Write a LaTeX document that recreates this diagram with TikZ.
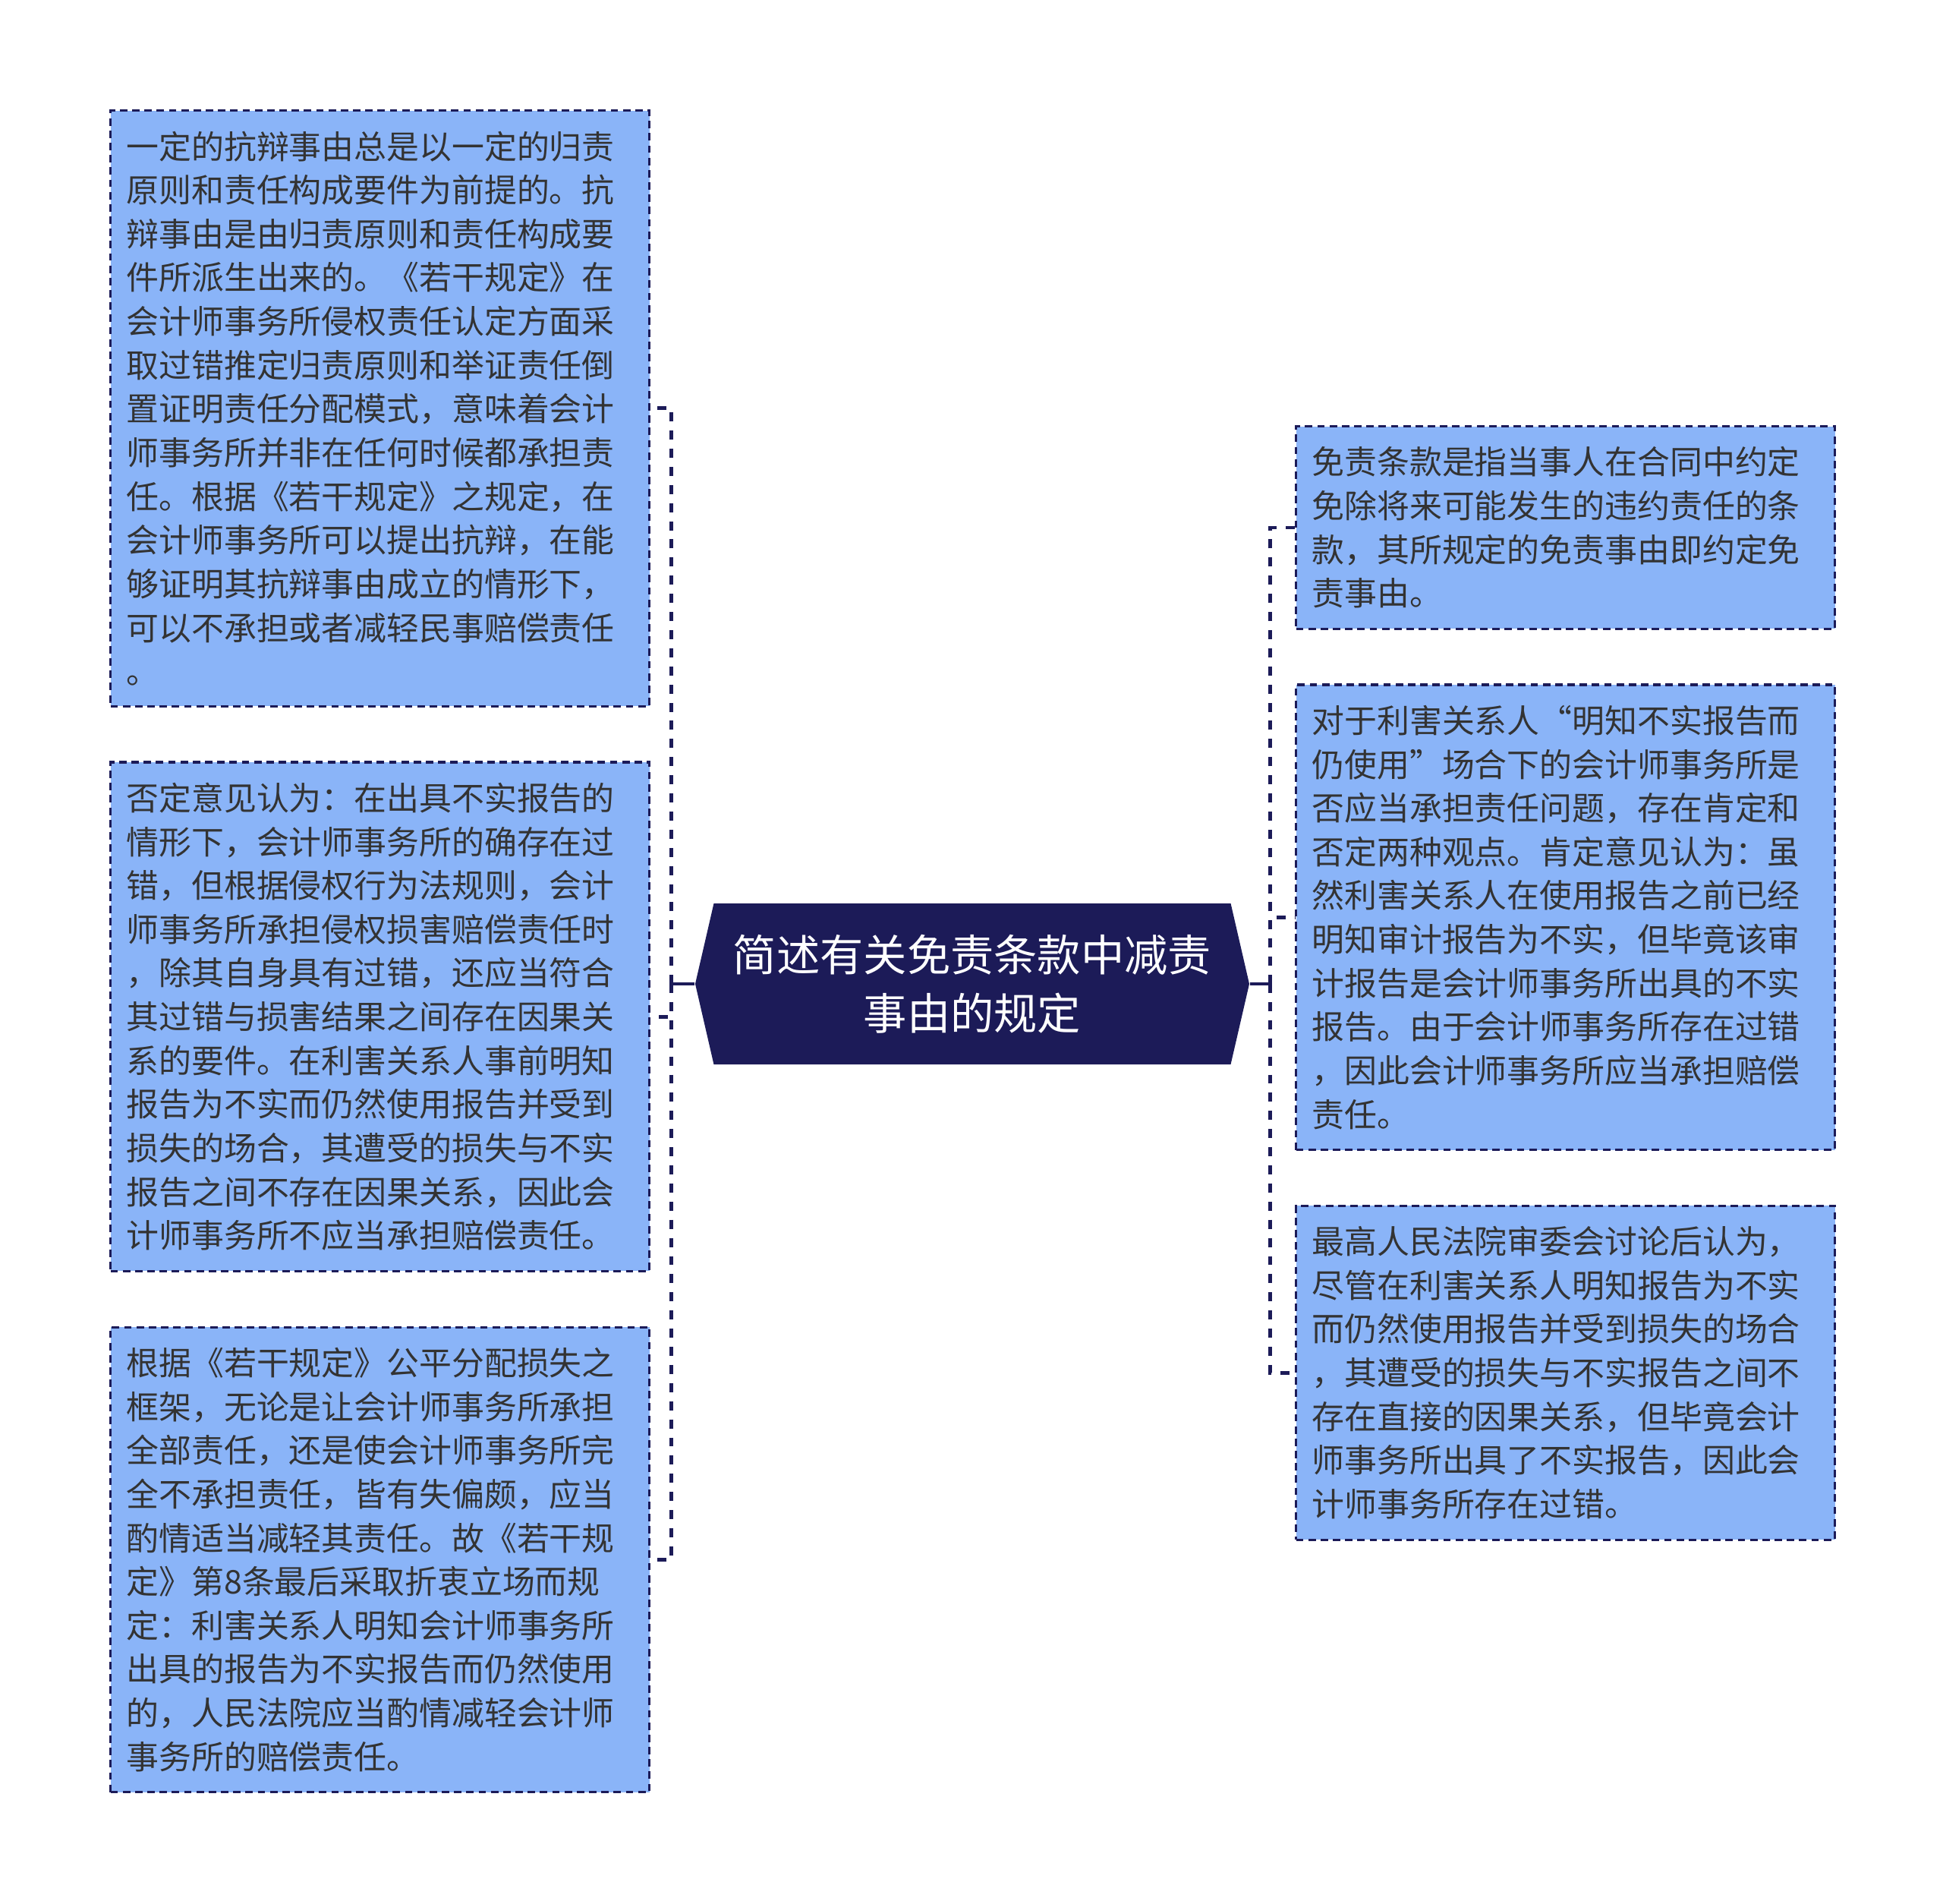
\documentclass[tikz,border=0pt]{standalone}
\usepackage{fontspec}
\newfontfamily\cjk{Noto Sans CJK SC}
\usetikzlibrary{positioning,shapes.symbols}
\definecolor{navy}{HTML}{1C1B58}
\definecolor{leafblue}{HTML}{8AB4F8}
\definecolor{ink}{HTML}{333333}
\tikzset{
	leaf/.style={draw=navy, fill=leafblue, line width=0.9pt, dash pattern=on 2.8pt off 1.8pt,
		text=ink, font=\cjk\fontsize{12.2}{16.4}\selectfont, text width=6.68cm, align=left,
		inner xsep=0.21cm, inner ysep=0.27cm},
	topic/.style={shape=signal, signal to=west and east, signal pointer angle=154, fill=navy,
		text=white, font=\cjk\fontsize{16.3}{21.8}\selectfont, align=center,
		minimum width=7.3cm, minimum height=2.12cm, inner sep=0pt},
	stub/.style={draw=navy, line width=1.4pt},
	link/.style={stub, dash pattern=on 3.4pt off 3.4pt}
}
\begin{document}
\begin{tikzpicture}[node distance=0.705cm]
	\useasboundingbox (0,0) rectangle (25.6,-25.07);

	\node[topic] (topic) at (12.81,-12.96) {简述有关免责条款中减责\\事由的规定};

	\node[leaf, anchor=north west] (defense) at (1.44,-1.44) {一定的抗辩事由总是以一定的归责\\
		原则和责任构成要件为前提的。抗\\
		辩事由是由归责原则和责任构成要\\
		件所派生出来的。《若干规定》在\\
		会计师事务所侵权责任认定方面采\\
		取过错推定归责原则和举证责任倒\\
		置证明责任分配模式，意味着会计\\
		师事务所并非在任何时候都承担责\\
		任。根据《若干规定》之规定，在\\
		会计师事务所可以提出抗辩，在能\\
		够证明其抗辩事由成立的情形下，\\
		可以不承担或者减轻民事赔偿责任\\
		。};
	\node[leaf, below=of defense] (negative) {否定意见认为：在出具不实报告的\\
		情形下，会计师事务所的确存在过\\
		错，但根据侵权行为法规则，会计\\
		师事务所承担侵权损害赔偿责任时\\
		，除其自身具有过错，还应当符合\\
		其过错与损害结果之间存在因果关\\
		系的要件。在利害关系人事前明知\\
		报告为不实而仍然使用报告并受到\\
		损失的场合，其遭受的损失与不实\\
		报告之间不存在因果关系，因此会\\
		计师事务所不应当承担赔偿责任。};
	\node[leaf, below=of negative] (fair) {根据《若干规定》公平分配损失之\\
		框架，无论是让会计师事务所承担\\
		全部责任，还是使会计师事务所完\\
		全不承担责任，皆有失偏颇，应当\\
		酌情适当减轻其责任。故《若干规\\
		定》第8条最后采取折衷立场而规\\
		定：利害关系人明知会计师事务所\\
		出具的报告为不实报告而仍然使用\\
		的，人民法院应当酌情减轻会计师\\
		事务所的赔偿责任。};

	\node[leaf, anchor=north west] (clause) at (17.06,-5.60) {免责条款是指当事人在合同中约定\\
		免除将来可能发生的违约责任的条\\
		款，其所规定的免责事由即约定免\\
		责事由。};
	\node[leaf, below=of clause] (views) {对于利害关系人“明知不实报告而\\
		仍使用”场合下的会计师事务所是\\
		否应当承担责任问题，存在肯定和\\
		否定两种观点。肯定意见认为：虽\\
		然利害关系人在使用报告之前已经\\
		明知审计报告为不实，但毕竟该审\\
		计报告是会计师事务所出具的不实\\
		报告。由于会计师事务所存在过错\\
		，因此会计师事务所应当承担赔偿\\
		责任。};
	\node[leaf, below=of views] (court) {最高人民法院审委会讨论后认为，\\
		尽管在利害关系人明知报告为不实\\
		而仍然使用报告并受到损失的场合\\
		，其遭受的损失与不实报告之间不\\
		存在直接的因果关系，但毕竟会计\\
		师事务所出具了不实报告，因此会\\
		计师事务所存在过错。};

	\path (topic.west) ++(-0.31,0) coordinate (lhub);
	\path (topic.east) ++(0.27,0) coordinate (rhub);
	\draw[stub] (topic.west) -- (lhub);
	\draw[stub] (topic.east) -- (rhub);
	\draw[link] (lhub) |- (defense.east);
	\draw[link] (lhub) |- (negative.east);
	\draw[link] (lhub) |- (fair.east);
	\draw[link] (rhub) |- (clause.west);
	\draw[link] (rhub) |- (views.west);
	\draw[link] (rhub) |- (court.west);
\end{tikzpicture}
\end{document}
